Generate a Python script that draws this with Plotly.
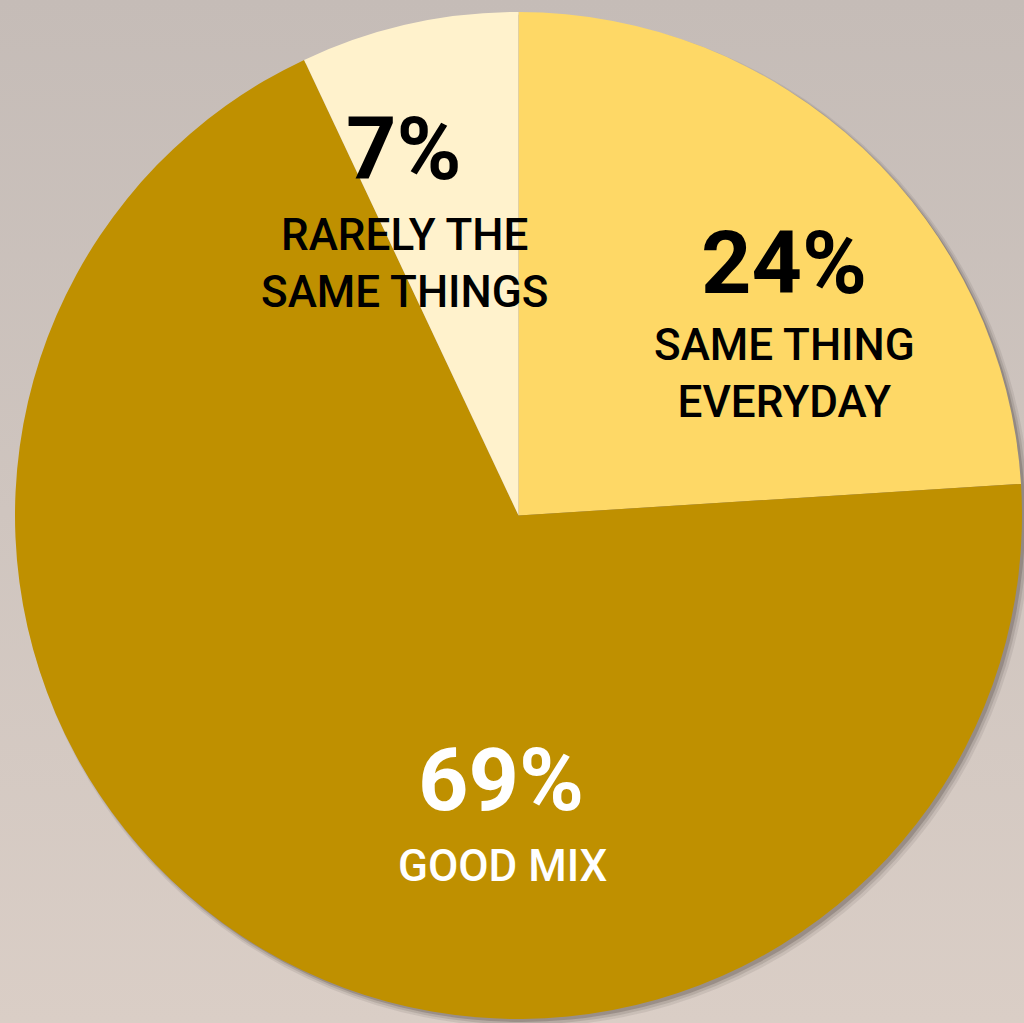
import plotly.graph_objects as go
import urllib.parse

# ---- data ----
labels = ["SAME THING EVERYDAY", "GOOD MIX", "RARELY THE SAME THINGS"]
values = [24, 69, 7]
pct_text = ["24%", "69%", "7%"]
desc_text = ["SAME THING<br>EVERYDAY", "GOOD MIX", "RARELY THE<br>SAME THINGS"]
colors = ["#FED866", "#BF9000", "#FFF2CC"]
text_colors = ["#000000", "#FFFFFF", "#000000"]

W, H = 1024, 1023
FONT = "Roboto"

def px(x):
    return x / W

def py(y):
    return 1 - y / H

# pie geometry (pixels)
cx, cy, r = 518.5, 515.5, 503.5

fig = go.Figure()
fig.add_trace(go.Pie(
    labels=labels,
    values=values,
    sort=False,
    direction="clockwise",
    rotation=0,
    marker=dict(colors=colors, line=dict(width=0)),
    textinfo="none",
    hoverinfo="label+percent",
    showlegend=False,
    domain=dict(x=[px(cx - r), px(cx + r)], y=[py(cy + r), py(cy - r)]),
))

# background gradient as inline svg
svg = (
    "<svg xmlns='http://www.w3.org/2000/svg' width='1024' height='1023'>"
    "<defs><linearGradient id='g' x1='0' y1='0' x2='0' y2='1'>"
    "<stop offset='0' stop-color='#c5bcb7'/>"
    "<stop offset='0.5' stop-color='#cfc5bf'/>"
    "<stop offset='1' stop-color='#dacec6'/>"
    "</linearGradient></defs>"
    "<rect width='1024' height='1023' fill='url(#g)'/></svg>"
)
src = "data:image/svg+xml;utf8," + urllib.parse.quote(svg)

shapes = []
# soft drop shadow
for off, grow, alpha in [(5, 3, 0.10), (4, 1.5, 0.15), (3, 0, 0.25)]:
    shapes.append(dict(
        type="circle", xref="paper", yref="paper", layer="below",
        x0=px(cx - r + off - grow), x1=px(cx + r + off + grow),
        y0=py(cy + r + off + grow), y1=py(cy - r + off - grow),
        fillcolor=f"rgba(70,60,55,{alpha})", line=dict(width=0),
    ))

# label positions (pixel centers)
pct_pos = [(784, 262), (501, 779), (404, 149)]
pct_size = [88, 88, 88]
desc_pos = [(784, 373), (502, 866), (404, 263)]
desc_size = [44, 44, 44]

annotations = []
for i in range(3):
    annotations.append(dict(
        x=px(pct_pos[i][0]), y=py(pct_pos[i][1]), xref="paper", yref="paper",
        text=pct_text[i], showarrow=False, xanchor="center", yanchor="middle",
        font=dict(family=FONT, size=pct_size[i], color=text_colors[i], weight=700),
    ))
    annotations.append(dict(
        x=px(desc_pos[i][0]), y=py(desc_pos[i][1]), xref="paper", yref="paper",
        text=desc_text[i], showarrow=False, xanchor="center", yanchor="middle",
        font=dict(family=FONT, size=desc_size[i], color=text_colors[i], weight=500),
    ))

fig.update_layout(
    width=W, height=H,
    margin=dict(l=0, r=0, t=0, b=0),
    paper_bgcolor="#cfc5bf",
    plot_bgcolor="#cfc5bf",
    images=[dict(source=src, xref="paper", yref="paper", x=0, y=1,
                 sizex=1, sizey=1, sizing="stretch", layer="below",
                 xanchor="left", yanchor="top")],
    shapes=shapes,
    annotations=annotations,
)

fig.write_html("out.html", config={"displayModeBar": False},
               post_script="document.body.style.margin='0';")
